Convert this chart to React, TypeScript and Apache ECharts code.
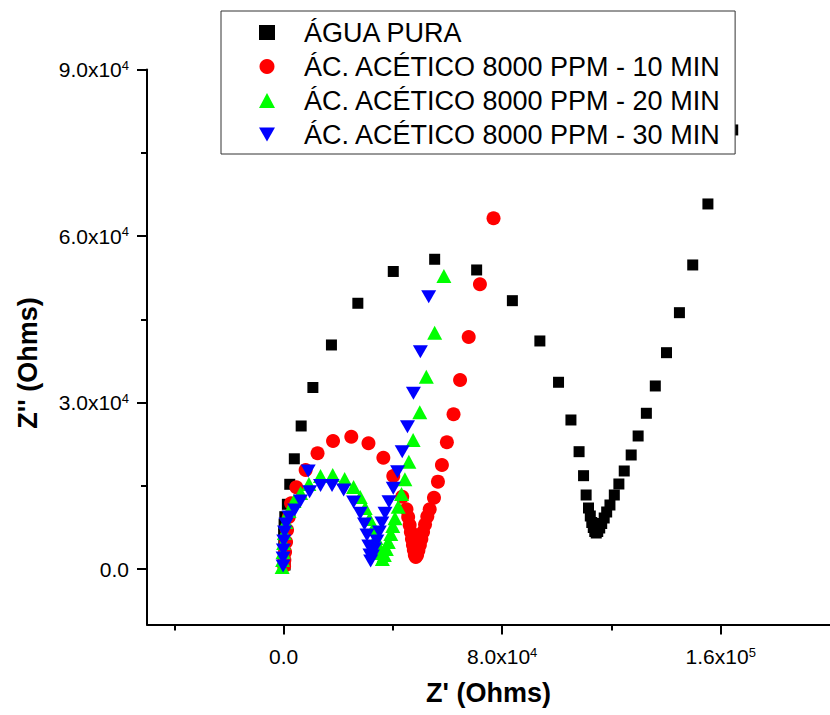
import React, { useEffect, useRef } from "react";
import * as echarts from "echarts";

const FONT = '"Liberation Sans", Arial, Helvetica, sans-serif';

const seriesNames = [
  "ÁGUA PURA",
  "ÁC. ACÉTICO 8000 PPM - 10 MIN",
  "ÁC. ACÉTICO 8000 PPM - 20 MIN",
  "ÁC. ACÉTICO 8000 PPM - 30 MIN",
];

const aguaPura: number[][] = [
  [545, 721], [363, 2342], [182, 3784], [73, 5226], [0, 6667], [182, 8109],
  [436, 9424], [1380, 11659], [2252, 15263], [3924, 19858], [6430, 25769],
  [10717, 32707], [17511, 40366], [27175, 47880], [40145, 53609], [55294, 55808],
  [70662, 53880], [83741, 48347], [93804, 41086], [100634, 33644], [105175, 26850],
  [108154, 21138], [109789, 16813], [110734, 13335], [111606, 10992], [112260, 9551],
  [112805, 8379], [113350, 7478], [113895, 6758], [114440, 6487], [114984, 6758],
  [115711, 7388], [116437, 8199], [117346, 9190], [118254, 10271], [119453, 11533],
  [121052, 13335], [122723, 15317], [124685, 17660], [127228, 20543], [129771, 23967],
  [132787, 28057], [136056, 32977], [140162, 38977], [144885, 46185], [149753, 54781],
  [155313, 65773], [164396, 79108],
];

const acetico10: number[][] = [
  [182, 541], [291, 1622], [545, 3063], [908, 4865], [1272, 7028], [1889, 9370],
  [2725, 11839], [4650, 14722], [8065, 17840], [12425, 20849], [18092, 23066],
  [24777, 23840], [31062, 22651], [36512, 20056], [40145, 16759], [43414, 13028],
  [44977, 10758], [45594, 9370], [46139, 7929], [46575, 6667], [46975, 5406],
  [47338, 4325], [47665, 3424], [48028, 2523], [48392, 2162], [48864, 2523],
  [49336, 3334], [49881, 4325], [50426, 5406], [51044, 6667], [51770, 8019],
  [52606, 9460], [53478, 10758], [55040, 12848], [56493, 15732], [57947, 18741],
  [59763, 22831], [62197, 27877], [64595, 34058], [67756, 41806], [71861, 51303],
  [76838, 63196],
];

const acetico20: number[][] = [
  [-545, 360], [-363, 1622], [-182, 3063], [0, 4685], [254, 6487], [836, 8469],
  [1998, 10451], [3815, 12254], [6249, 13693], [9264, 15317], [13515, 16759],
  [17983, 16939], [22343, 16218], [25613, 14777], [28047, 12975], [29864, 10992],
  [31425, 9010], [32697, 7208], [33787, 5586], [34695, 4145], [35422, 2883],
  [36149, 1802], [36875, 2523], [37602, 3604], [38328, 4865], [39236, 6307],
  [39963, 7749], [40762, 9136], [41961, 11226], [43160, 13515], [44395, 16164],
  [45848, 19335], [47410, 23246], [49845, 28237], [52242, 34652], [55294, 42581],
  [58673, 52799],
];

const acetico30: number[][] = [
  [-182, 541], [-182, 1982], [-73, 3424], [73, 5046], [363, 6667], [908, 8109],
  [1998, 9370], [4069, 10632], [6176, 12254], [9010, 17660], [9518, 13929],
  [13515, 15047], [17729, 15047], [21980, 14236], [25613, 12073], [28047, 10036],
  [29609, 8109], [30517, 6127], [31171, 4145], [31607, 2523], [31861, 1442],
  [32515, 2343], [33241, 3604], [34150, 5046], [35058, 6667], [35967, 8289],
  [37130, 10037], [38583, 12127], [40145, 14542], [41707, 17533], [43414, 21137],
  [45340, 25642], [47520, 31661], [50063, 39157], [53115, 49068],
];

const xMajorTicks = [0, 80000, 160000];
const xMinorTicks = [-40000, 40000, 120000];
const yMajorTicks = [0, 30000, 60000, 90000];
const yMinorTicks = [15000, 45000, 75000];

const DOWN_TRI = "path://M0,0 L16,0 L8,14 Z";

function sciFormat(v: number): string {
  if (v === 0) return "{b|0.0}";
  const e = Math.floor(Math.log10(Math.abs(v)) + 1e-9);
  const m = v / Math.pow(10, e);
  return `{b|${m.toFixed(1)}x10}{s|${e}}`;
}

const labelRich = {
  b: { fontFamily: FONT, fontSize: 21, color: "#000", lineHeight: 22 },
  s: { fontFamily: FONT, fontSize: 13, color: "#000", verticalAlign: "top", lineHeight: 13 },
};

export default function App() {
  const ref = useRef<HTMLDivElement>(null);
  useEffect(() => {
    if (!ref.current) return;
    const chart = echarts.init(ref.current, undefined, { renderer: "svg" });
    const axisLineStyle = { color: "#000", width: 2 };
    const xBase = {
      type: "value",
      min: -50000,
      max: 200000,
      position: "bottom",
      offset: 0,
      splitLine: { show: false },
    };
    const yBase = {
      type: "value",
      min: -10000,
      max: 90000,
      position: "left",
      offset: 0,
      splitLine: { show: false },
    };
    chart.setOption({
      animation: false,
      backgroundColor: "#fff",
      grid: { left: 147, top: 69.5, width: 688, height: 555, containLabel: false },
      legend: {
        show: true,
        orient: "vertical",
        left: 221,
        top: 11,
        selectedMode: false,
        itemWidth: 16,
        itemHeight: 15,
        itemGap: 7,
        padding: [8, 14, 6, 38],
        backgroundColor: "#fff",
        borderColor: "#333",
        borderWidth: 1,
        textStyle: {
          fontFamily: FONT,
          fontSize: 27,
          color: "#000",
          lineHeight: 26,
          padding: [0, 0, 0, 24],
        },
        data: [
          { name: seriesNames[0], icon: "rect" },
          { name: seriesNames[1], icon: "circle" },
          { name: seriesNames[2], icon: "triangle" },
          { name: seriesNames[3], icon: DOWN_TRI },
        ],
      },
      xAxis: [
        {
          ...xBase,
          axisLine: { show: true, onZero: false, lineStyle: axisLineStyle },
          axisTick: { show: true, customValues: xMajorTicks, length: 10, lineStyle: axisLineStyle },
          axisLabel: { show: true, customValues: xMajorTicks, formatter: sciFormat, rich: labelRich, margin: 21 },
          name: "Z' (Ohms)",
          nameLocation: "middle",
          nameGap: 55,
          nameTextStyle: { fontFamily: FONT, fontSize: 27, fontWeight: "bold", color: "#000" },
        },
        {
          ...xBase,
          axisLine: { show: false, onZero: false },
          axisTick: { show: true, customValues: xMinorTicks, length: 6, lineStyle: axisLineStyle },
          axisLabel: { show: false },
        },
      ],
      yAxis: [
        {
          ...yBase,
          axisLine: { show: true, onZero: false, lineStyle: axisLineStyle },
          axisTick: { show: true, customValues: yMajorTicks, length: 10, lineStyle: axisLineStyle },
          axisLabel: { show: true, customValues: yMajorTicks, formatter: sciFormat, rich: labelRich, margin: 18 },
        },
        {
          ...yBase,
          axisLine: { show: false, onZero: false },
          axisTick: { show: true, customValues: yMinorTicks, length: 6, lineStyle: axisLineStyle },
          axisLabel: { show: false },
        },
      ],
      graphic: [
        {
          type: "text",
          x: 28,
          y: 363,
          rotation: Math.PI / 2,
          style: {
            text: "Z'' (Ohms)",
            font: `bold 27px ${FONT}`,
            fill: "#000",
            textAlign: "center",
            textVerticalAlign: "middle",
          },
        },
      ],
      series: [
        {
          name: seriesNames[0],
          type: "scatter",
          data: aguaPura,
          symbol: "rect",
          symbolSize: 11,
          itemStyle: { color: "#000", opacity: 1 },
          z: 2,
        },
        {
          name: seriesNames[1],
          type: "scatter",
          data: acetico10,
          symbol: "circle",
          symbolSize: 14,
          itemStyle: { color: "#ff0000", opacity: 1 },
          z: 3,
        },
        {
          name: seriesNames[2],
          type: "scatter",
          data: acetico20,
          symbol: "triangle",
          symbolSize: [15, 14],
          itemStyle: { color: "#00ff00", opacity: 1 },
          z: 4,
        },
        {
          name: seriesNames[3],
          type: "scatter",
          data: acetico30,
          symbol: DOWN_TRI,
          symbolSize: [15, 13],
          itemStyle: { color: "#0000ff", opacity: 1 },
          z: 5,
        },
      ],
    });
    return () => chart.dispose();
  }, []);
  return (
    <div
      ref={ref}
      style={{ position: "fixed", left: 0, top: 0, width: 830, height: 715, background: "#fff" }}
    />
  );
}
